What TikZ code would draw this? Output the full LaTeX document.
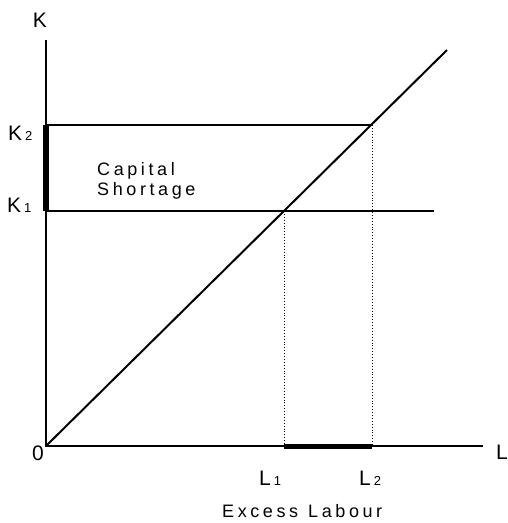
\documentclass[tikz,border=0pt]{standalone}
\usepackage{fontspec}
\setmainfont{Liberation Sans}
\newfontfamily\spaced[LetterSpace=20]{Liberation Sans}
\newcommand{\axlab}{\fontsize{21}{21}\selectfont}
\newcommand{\sublab}[1]{\hspace{3pt}{\fontsize{13}{13}\selectfont #1}}
\begin{document}
\begin{tikzpicture}[x=1pt,y=-1pt,
  axis/.style={line width=1.6pt},
  guide/.style={line width=1.5pt},
  diag/.style={line width=2pt},
  dots/.style={line width=0.9pt,dotted},
  bar/.style={line width=6pt},
  lab/.style={inner sep=0pt,font=\axlab},
  txt/.style={inner sep=0pt,anchor=base west,font=\spaced\fontsize{18}{18}\selectfont}]
\useasboundingbox (0,0) rectangle (508,523);
% coordinates
\coordinate (O) at (46,446);
\coordinate (Ytop) at (46,40);
\coordinate (Xend) at (483,446);
\coordinate (K2s) at (46,125);
\coordinate (K1s) at (46,211);
\coordinate (A) at (284,211);
\coordinate (B) at (372,125);
\coordinate (K1e) at (434,211);
\coordinate (Dend) at (447,50);
\coordinate (L1f) at (284,446);
\coordinate (L2f) at (372,446);
% axes
\draw[axis] (Ytop) -- (O) -- (Xend);
% lines
\draw[guide] (K2s) -- (B);
\draw[guide] (K1s) -- (K1e);
\draw[diag] (O) -- (Dend);
\draw[dots] (A) -- (L1f);
\draw[dots] (B) -- (L2f);
% bars
\draw[bar] (K2s) -- (K1s);
\draw[bar,line width=5pt] (L1f) -- (L2f);
% labels
\node[lab] (lK) at (40,20) {K};
\node[lab,anchor=base west] (lK2) at (8,140) {K\sublab{2}};
\node[lab,anchor=base west] (lK1) at (7,212) {K\sublab{1}};
\node[lab] (l0) at (38,453) {0};
\node[lab] (lL) at (502,452) {L};
\node[lab,anchor=base west] (lL1) at (259,485) {L\sublab{1}};
\node[lab,anchor=base west] (lL2) at (359,485) {L\sublab{2}};
\node[txt] (cap) at (97,175) {Capital};
\node[txt] (sho) at (97,195) {Shortage};
\node[txt] (exc) at (222,517) {Excess\hspace{10pt}Labour};
\end{tikzpicture}
\end{document}
